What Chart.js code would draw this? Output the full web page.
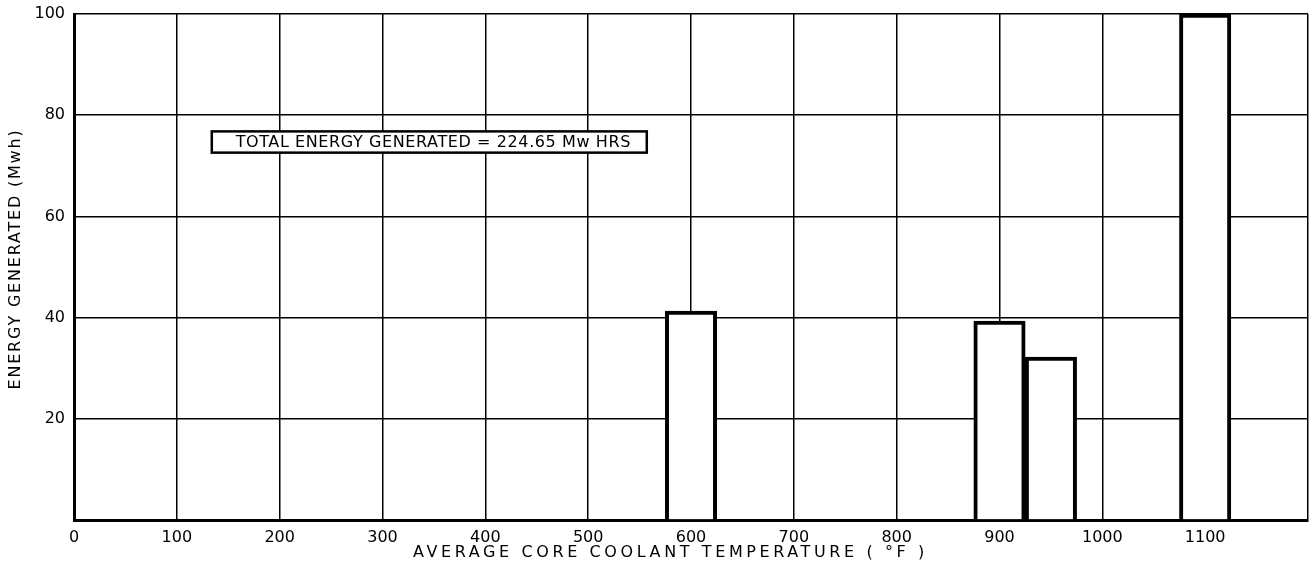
<!DOCTYPE html>
<html>
<head>
<meta charset="utf-8">
<script src="https://cdn.jsdelivr.net/npm/chart.js@4"></script>
<style>
  html, body { margin: 0; padding: 0; background: #fff; }
  #wrap { width: 1311px; height: 580px; position: relative; }
</style>
</head>
<body>
<div id="wrap"><canvas id="energy__chart"></canvas></div>
<script>
// coolant temperature bins (°F) and energy generated in each (Mwh)
const temps = [600, 900, 950, 1100];
const energy = [41.3, 39.3, 32.2, 100];

const xTickLabels = ['0', '100', '200', '300', '400', '500', '600', '700', '800', '900', '1000', '1100', ''];
const yTickLabels = ['', '20', '40', '60', '80', '100'];

const xTitle = 'AVERAGE CORE COOLANT TEMPERATURE ( °F )';
const yTitle = 'ENERGY GENERATED (Mwh)';
const totalNote = 'TOTAL ENERGY GENERATED = 224.65 Mw HRS';

const FONT = "'DejaVu Sans', sans-serif";

// titles and the boxed total are drawn by hand so they can be letter-spaced
const labelsPlugin = {
  id: 'labels',
  afterDraw(chart) {
    const ctx = chart.ctx;
    const x = chart.scales.x;
    const y = chart.scales.y;
    ctx.save();
    ctx.fillStyle = '#000';
    ctx.strokeStyle = '#000';
    ctx.textBaseline = 'middle';

    // total energy box
    const bx1 = x.getPixelForValue(134);
    const bx2 = x.getPixelForValue(557);
    const by1 = y.getPixelForValue(76.8);
    const by2 = y.getPixelForValue(72.6);
    ctx.fillStyle = '#fff';
    ctx.fillRect(bx1, by1, bx2 - bx1, by2 - by1);
    ctx.lineWidth = 2.5;
    ctx.strokeRect(bx1, by1, bx2 - bx1, by2 - by1);
    ctx.fillStyle = '#000';
    ctx.font = '16px ' + FONT;
    ctx.letterSpacing = '0.6px';
    ctx.textAlign = 'center';
    ctx.fillText(totalNote, (bx1 + bx2) / 2 + 4, (by1 + by2) / 2 + 1);

    // x axis title
    ctx.font = '16px ' + FONT;
    ctx.letterSpacing = '3.6px';
    ctx.fillText(xTitle, x.getPixelForValue(580), 553);

    // y axis title
    ctx.translate(16, (y.top + y.bottom) / 2 - 8);
    ctx.rotate(-Math.PI / 2);
    ctx.letterSpacing = '1.8px';
    ctx.fillText(yTitle, 0, 0);
    ctx.restore();
  }
};

const tickFont = { family: FONT, size: 16 };

new Chart(document.getElementById('energy__chart').getContext('2d'), {
  type: 'bar',
  data: {
    datasets: [{
      data: temps.map((t, i) => ({ x: t, y: energy[i] })),
      backgroundColor: '#fff',
      borderColor: '#000',
      borderWidth: 4,
      barPercentage: 1,
      categoryPercentage: 1,
    }]
  },
  options: {
    responsive: true,
    maintainAspectRatio: false,
    animation: false,
    layout: { padding: { top: 14, right: 3, left: 0, bottom: 0 } },
    plugins: {
      legend: { display: false },
      tooltip: { enabled: false },
    },
    scales: {
      x: {
        type: 'linear',
        offset: false,
        min: 0,
        max: 1200,
        ticks: {
          stepSize: 100,
          color: '#000',
          font: tickFont,
          padding: 8,
          maxRotation: 0,
          autoSkip: false,
          callback: (value, index) => xTickLabels[index],
        },
        grid: { color: '#000', lineWidth: 1.5, drawTicks: false, offset: false },
        border: { color: '#000', width: 3 },
        afterFit: (scale) => {
          scale.height = 60;
          scale.paddingLeft = 0;
          scale.paddingRight = 0;
        },
      },
      y: {
        min: 0,
        max: 100,
        ticks: {
          stepSize: 20,
          color: '#000',
          font: tickFont,
          padding: 9,
          callback: (value, index) => yTickLabels[index],
        },
        grid: { color: '#000', lineWidth: 1.5, drawTicks: false },
        border: { color: '#000', width: 3 },
        afterFit: (scale) => {
          scale.width = 74;
          scale.paddingTop = 0;
          scale.paddingBottom = 0;
        },
      },
    },
  },
  plugins: [labelsPlugin],
});
</script>
</body>
</html>
